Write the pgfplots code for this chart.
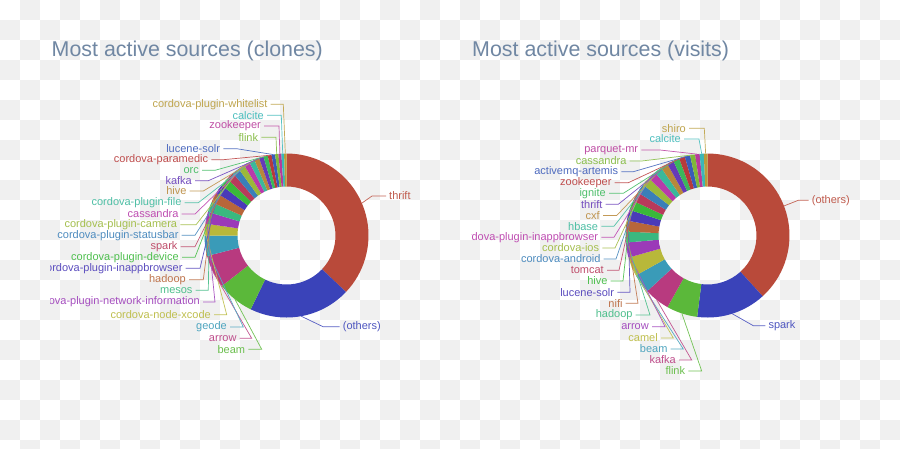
\documentclass[border=0pt]{standalone}
\usepackage{pgfplots}
\usepackage{pgfplotstable}
\pgfplotsset{compat=1.18}
\usepackage{fontspec}
\setmainfont{Liberation Sans}

\definecolor{c1}{RGB}{185,74,58}
\definecolor{c2}{RGB}{58,67,185}
\definecolor{c3}{RGB}{91,184,58}
\definecolor{c4}{RGB}{184,58,127}
\definecolor{c5}{RGB}{58,155,184}
\definecolor{c6}{RGB}{184,184,58}
\definecolor{c7}{RGB}{155,58,184}
\definecolor{c8}{RGB}{58,184,127}
\definecolor{c9}{RGB}{184,102,58}
\definecolor{c10}{RGB}{74,58,184}
\definecolor{c11}{RGB}{58,184,58}
\definecolor{c12}{RGB}{184,58,91}
\definecolor{c13}{RGB}{58,127,184}
\definecolor{c14}{RGB}{155,184,58}
\definecolor{c15}{RGB}{184,58,170}
\definecolor{c16}{RGB}{58,184,155}
\definecolor{c17}{RGB}{184,136,58}
\definecolor{c18}{RGB}{102,58,184}
\definecolor{c19}{RGB}{58,184,91}
\definecolor{c20}{RGB}{184,58,58}
\definecolor{c21}{RGB}{58,91,184}
\definecolor{c22}{RGB}{127,184,58}
\definecolor{c23}{RGB}{184,58,155}
\definecolor{c24}{RGB}{58,184,184}
\definecolor{c25}{RGB}{184,155,58}
\definecolor{titlecol}{RGB}{112,135,163}

\newcommand\lblfont{\fontsize{11}{12}\selectfont}

% value, label x (text end / start), label y, elbow x, side (1 = right)
\pgfplotstableread[col sep=comma]{
name,value,lx,ly,ex,side
thrift,132.8,389,196,372,1
(others),72,342.7,326.7,323,1
beam,26,245.3,349.3,261.7,0
arrow,23.4,236.7,338.3,251.7,0
geode,14.3,227,327,243.3,0
cordova-node-xcode,8.4,211,314.7,226.7,0
cordova-plugin-network-information,8.3,200,302,215,0
mesos,7.2,192.7,290.3,208.3,0
hadoop,7.2,186,279.7,203.3,0
cordova-plugin-inappbrowser,6.5,182.7,268.3,200,0
cordova-plugin-device,6.0,179,257.3,195,0
spark,5.5,177.7,246.7,195,0
cordova-plugin-statusbar,5.0,178.7,235.3,195,0
cordova-plugin-camera,4.6,177.3,224.8,196,0
cassandra,4.2,178.7,214,195,0
cordova-plugin-file,3.8,181.7,202.7,198.3,0
hive,3.5,186.7,191,203.3,0
kafka,3.2,192,180.7,208.3,0
orc,3.0,199,170.3,215,0
cordova-paramedic,2.7,208.3,159.7,223.3,0
lucene-solr,2.5,220.3,148.7,236.7,0
flink,2.3,258.3,137.3,276,0
zookeeper,2.1,261,126,279,0
calcite,1.9,264,115.3,281.3,0
cordova-plugin-whitelist,1.7,267.7,104.3,283.3,0
}\clones

\pgfplotstableread[col sep=comma]{
name,value,lx,ly,ex,side
(others),137.2,811.7,200.3,798.3,1
spark,49.3,768.3,325.7,753.3,1
flink,21.9,685.3,371,701.7,0
kafka,18,676,360,691.7,0
beam,13.5,667.7,349,683.3,0
camel,13.5,658,338,673.3,0
arrow,10.6,649,326.7,665,0
hadoop,7.7,632.7,315,650,0
nifi,7.7,622.7,303.3,638,0
lucene-solr,7.7,614.3,292.3,630,0
hive,6.7,607.7,281,623,0
tomcat,6.7,604,270.3,619,0
cordova-android,6.5,600.7,259,616,0
cordova-ios,6.2,599.3,248,615,0
cordova-plugin-inappbrowser,5.8,598.3,237.2,614,0
hbase,5.4,598.3,226.2,614,0
cxf,5.0,600,215.5,616.7,0
thrift,4.7,602.7,204.3,618.3,0
ignite,4.4,606,193.3,623.3,0
zookeeper,4.1,611.7,182.7,628.3,0
activemq-artemis,3.8,618.3,171.7,633.3,0
cassandra,3.5,626.7,161,641.7,0
parquet-mr,3.2,638.3,150,660,0
calcite,2.9,681,139,699,0
shiro,2.6,686,128.3,704.3,0
}\visits

% #1 table, #2 centre x, #3 centre y (image pixels, y down)
\newcommand\drawdonut[3]{%
  \pgfplotstablegetrowsof{#1}%
  \pgfmathtruncatemacro\nlast{\pgfplotsretval-1}%
  \def\tot{0}%
  \pgfplotsforeachungrouped \i in {0,...,\nlast}{%
    \pgfplotstablegetelem{\i}{value}\of#1%
    \pgfmathsetmacro\tot{\tot+\pgfplotsretval}}%
  \def\acc{0}%
  \pgfplotsforeachungrouped \i in {0,...,\nlast}{%
    \pgfplotstablegetelem{\i}{value}\of#1%
    \pgfmathsetmacro\ta{\acc}%
    \pgfmathsetmacro\tb{\acc+(\pgfplotsretval/\tot)*360}%
    \let\acc\tb
    \pgfmathsetmacro\tm{(\ta+\tb)/2}%
    \pgfmathsetmacro\xo{#2+82*sin(\tm)}%
    \pgfmathsetmacro\yo{#3-82*cos(\tm)}%
    \pgfmathsetmacro\xi{#2+49*sin(\tb)}%
    \pgfmathsetmacro\yi{#3-49*cos(\tb)}%
    \pgfmathsetmacro\sa{90-\tb}%
    \pgfmathsetmacro\ea{90-\ta}%
    \pgfmathtruncatemacro\ci{\i+1}%
    \pgfplotstablegetelem{\i}{name}\of#1\let\nm\pgfplotsretval
    \pgfplotstablegetelem{\i}{lx}\of#1\let\lx\pgfplotsretval
    \pgfplotstablegetelem{\i}{ly}\of#1\let\ly\pgfplotsretval
    \pgfplotstablegetelem{\i}{ex}\of#1\let\ex\pgfplotsretval
    \pgfplotstablegetelem{\i}{side}\of#1\pgfmathtruncatemacro\sd{\pgfplotsretval}%
    \ifnum\sd=1 \def\anc{west}\pgfmathsetmacro\lsx{\lx-3}%
    \else \def\anc{east}\pgfmathsetmacro\lsx{\lx+3}\fi
    \edef\cmd{%
      \noexpand\addplot[fill=c\ci, draw=none, domain=\ta:\tb, samples=40]
        ({#2+82*sin(x)},{#3-82*cos(x)})
        -- (axis cs:\xi,\yi) arc[start angle=\sa, end angle=\ea, radius=49pt] -- cycle;
      \noexpand\draw[c\ci!85!white, line width=0.7pt]
        (axis cs:\lsx,\ly) -- (axis cs:\ex,\ly) -- (axis cs:\xo,\yo);
      \noexpand\node[anchor=\anc, text=c\ci!90!white, font=\noexpand\lblfont, inner sep=0pt]
        at (axis cs:\lx,\ly) {\nm};}%
    \cmd
  }}

\begin{document}
\begin{tikzpicture}
\useasboundingbox (0,0) rectangle (900pt,448pt);
\fill[white] (0,0) rectangle (900pt,448pt);
\begin{scope}
\clip (0,0) rectangle (900pt,448pt);
\foreach \i in {0,...,44}{
  \foreach \j in {0,...,22}{
    \ifodd\numexpr\i+\j\relax
      \fill[gray!12] (\i*20pt,448pt-\j*20pt) rectangle ++(20pt,-20pt);
    \fi
  }
}
\end{scope}

\begin{axis}[
  at={(50pt,0pt)}, anchor=south west,
  x=1pt, y=1pt,
  xmin=50, xmax=460, ymin=0, ymax=448,
  y dir=reverse,
  hide axis,
]
\drawdonut{\clones}{286.5}{235.5}
\end{axis}

\begin{axis}[
  at={(471pt,0pt)}, anchor=south west,
  x=1pt, y=1pt,
  xmin=471, xmax=900, ymin=0, ymax=448,
  y dir=reverse,
  hide axis,
]
\drawdonut{\visits}{707.5}{235.5}
\end{axis}

\node[anchor=base west, text=titlecol, font=\fontsize{21.4}{24}\selectfont, inner sep=0pt]
  at (51.5pt,448pt-56.7pt) {Most active sources (clones)};
\node[anchor=base west, text=titlecol, font=\fontsize{21.4}{24}\selectfont, inner sep=0pt]
  at (472pt,448pt-56.7pt) {Most active sources (visits)};
\end{tikzpicture}
\end{document}
